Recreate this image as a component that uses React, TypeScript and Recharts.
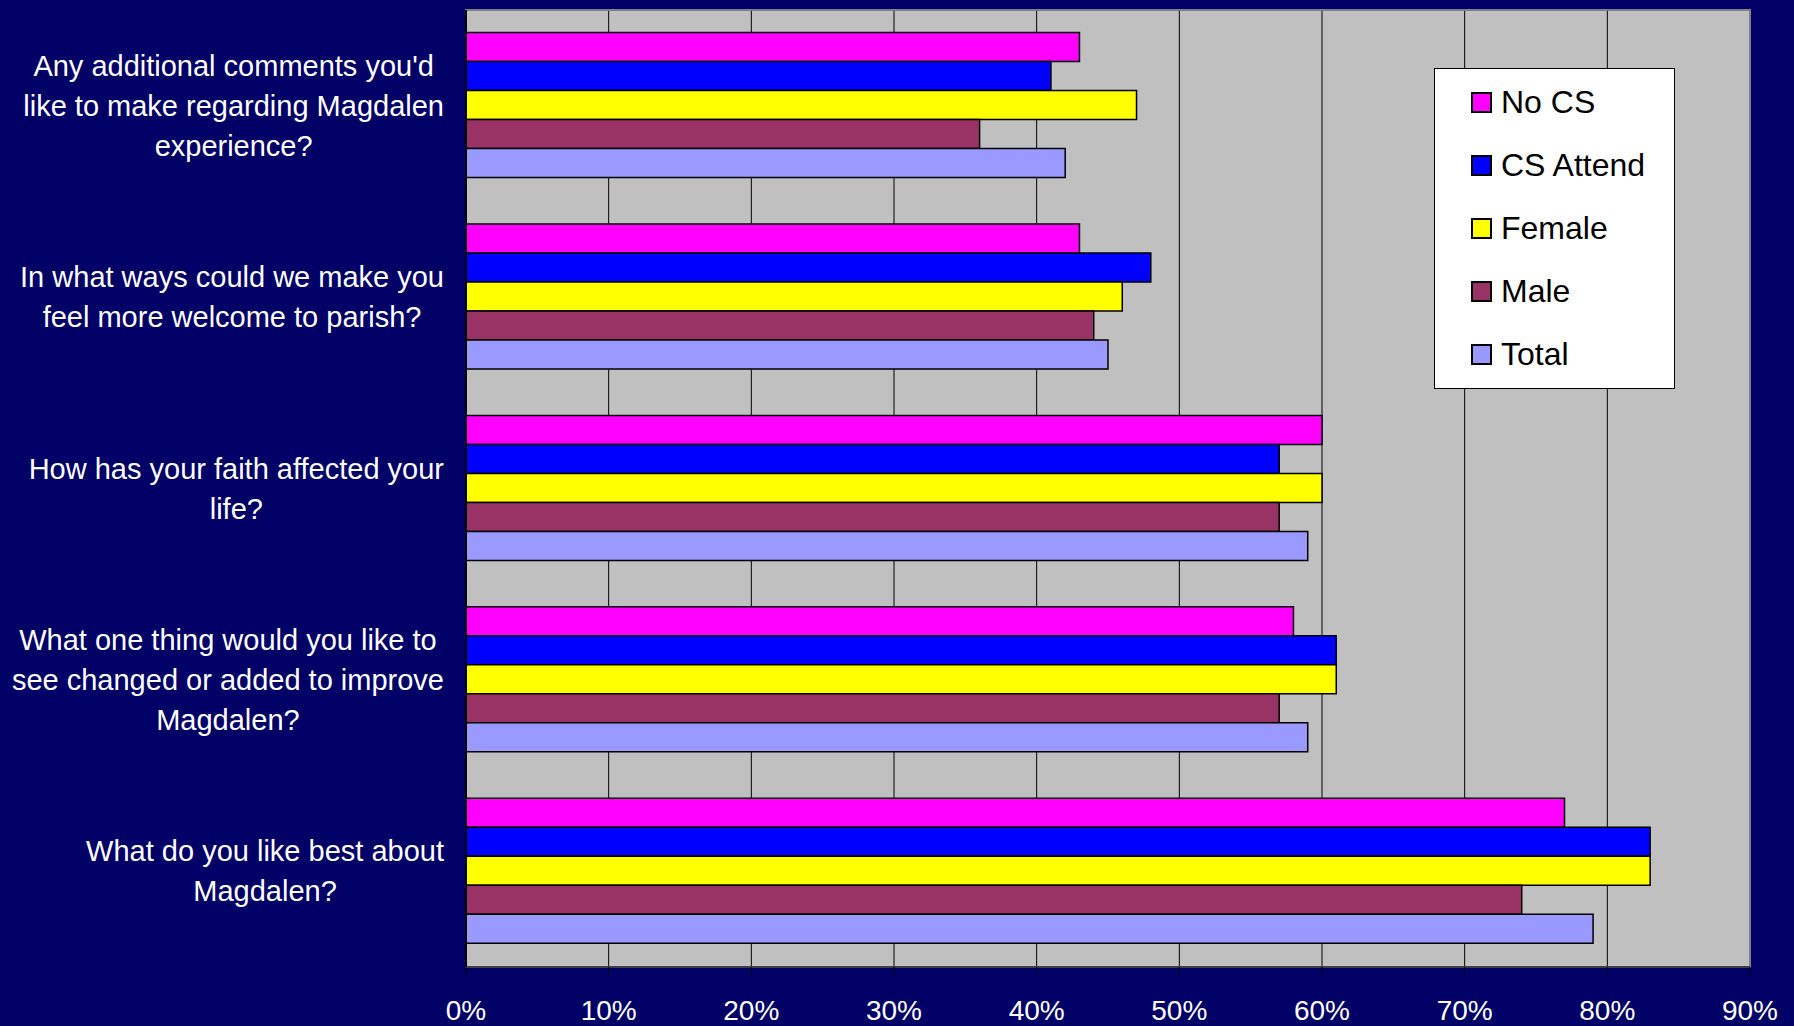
import React from 'react';
import { BarChart, Bar, XAxis, YAxis, CartesianGrid, ReferenceArea } from 'recharts';

const categories = [
  "Any additional comments you'd like to make regarding Magdalen experience?",
  'In what ways could we make you feel more welcome to parish?',
  'How has your faith affected your life?',
  'What one thing would you like to see changed or added to improve Magdalen?',
  'What do you like best about Magdalen?',
];
const categoryLines = [
  ["Any additional comments you'd", 'like to make regarding Magdalen', 'experience?'],
  ['In what ways could we make you', 'feel more welcome to parish?'],
  ['How has your faith affected your', 'life?'],
  ['What one thing would you like to', 'see changed or added to improve', 'Magdalen?'],
  ['What do you like best about', 'Magdalen?'],
];
const noCS = [43, 43, 60, 58, 77];
const csAttend = [41, 48, 57, 61, 83];
const female = [47, 46, 60, 61, 83];
const male = [36, 44, 57, 57, 74];
const total = [42, 45, 59, 59, 79];
const xTicks = [0, 10, 20, 30, 40, 50, 60, 70, 80, 90];

const seriesNames = ['No CS', 'CS Attend', 'Female', 'Male', 'Total'];
const seriesKeys = ['noCS', 'csAttend', 'female', 'male', 'total'];
const seriesColors = ['#FF00FF', '#0000FF', '#FFFF00', '#993366', '#9999FF'];

const data = categories.map((c, i) => ({
  name: c,
  noCS: noCS[i],
  csAttend: csAttend[i],
  female: female[i],
  male: male[i],
  total: total[i],
}));

const FONT = '"Liberation Sans", Arial, sans-serif';
const LABEL_SIZE = 29;

let measureCtx: CanvasRenderingContext2D | null = null;
const measure = (s: string) => {
  if (typeof document === 'undefined') return s.length * LABEL_SIZE * 0.5;
  if (!measureCtx) {
    const c = document.createElement('canvas');
    measureCtx = c.getContext('2d');
  }
  if (!measureCtx) return s.length * LABEL_SIZE * 0.5;
  measureCtx.font = `${LABEL_SIZE}px "Liberation Sans", Arial, sans-serif`;
  return measureCtx.measureText(s).width;
};

const CategoryTick = (props: any) => {
  const { x, y, payload } = props;
  const i = categories.indexOf(payload.value);
  const lines = i >= 0 ? categoryLines[i] : [String(payload.value)];
  const lh = 40;
  const start = y - ((lines.length - 1) * lh) / 2;
  const maxW = Math.max(...lines.map(measure));
  const right = x - 22;
  const cx = right - maxW / 2;
  return (
    <g>
      {lines.map((l, k) => (
        <text
          key={k}
          x={cx}
          y={start + k * lh}
          dy="0.35em"
          textAnchor="middle"
          fill="#FFFFFF"
          fontSize={LABEL_SIZE}
          fontFamily={FONT}
        >
          {l}
        </text>
      ))}
    </g>
  );
};

export default function App() {
  return (
    <div style={{ position: 'absolute', left: 0, top: 0, width: 1794, height: 1026, background: '#000066', fontFamily: FONT }}>
      <BarChart
        width={1794}
        height={1026}
        data={data}
        layout="vertical"
        margin={{ top: 10, right: 44, bottom: 0, left: 0 }}
        barCategoryGap="11.8%"
        barGap={0}
      >
        <CartesianGrid horizontal={false} vertical={true} stroke="#000000" strokeWidth={1} fill="#C0C0C0" fillOpacity={1} />
        <ReferenceArea x1={0} x2={90} fill="none" stroke="#808080" strokeWidth={2} ifOverflow="extendDomain" />
        <XAxis
          type="number"
          domain={[0, 90]}
          ticks={xTicks}
          tickFormatter={(v: number) => `${v}%`}
          height={59}
          tickSize={8}
          tickMargin={25}
          axisLine={{ stroke: '#404040', strokeWidth: 2 }}
          tickLine={{ stroke: '#000000' }}
          tick={{ fill: '#FFFFFF', fontSize: 28, fontFamily: FONT }}
          interval={0}
        />
        <YAxis
          type="category"
          dataKey="name"
          width={466}
          tickSize={0}
          tickMargin={0}
          tickLine={false}
          axisLine={{ stroke: '#000000', strokeWidth: 2 }}
          tick={<CategoryTick />}
          interval={0}
        />
        {seriesKeys.map((k, i) => (
          <Bar
            key={k}
            dataKey={k}
            name={seriesNames[i]}
            fill={seriesColors[i]}
            stroke="#000000"
            strokeWidth={1.5}
            isAnimationActive={false}
          />
        ))}
      </BarChart>
      <div
        style={{
          position: 'absolute',
          left: 1434,
          top: 68,
          width: 239,
          height: 319,
          background: '#FFFFFF',
          border: '1px solid #000000',
        }}
      >
        {seriesNames.map((n, i) => (
          <div
            key={n}
            style={{
              position: 'absolute',
              left: 36,
              top: 33 + i * 63 - 20,
              height: 40,
              display: 'flex',
              alignItems: 'center',
            }}
          >
            <div
              style={{
                width: 17,
                height: 17,
                background: seriesColors[i],
                border: '2px solid #000000',
                boxSizing: 'content-box',
                marginRight: 9,
              }}
            />
            <span style={{ fontSize: 32, color: '#000000', fontFamily: FONT, lineHeight: '40px' }}>{n}</span>
          </div>
        ))}
      </div>
    </div>
  );
}
